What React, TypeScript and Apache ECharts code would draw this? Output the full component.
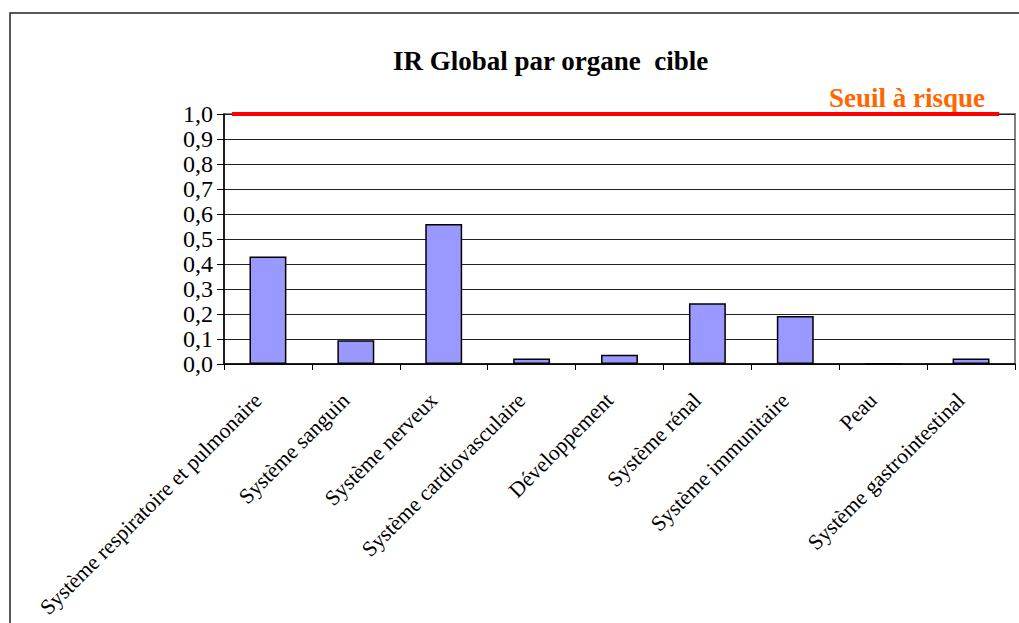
import React, { useEffect, useRef } from "react";
import * as echarts from "echarts";

const categories = [
  "Système respiratoire et pulmonaire",
  "Système sanguin",
  "Système nerveux",
  "Système cardiovasculaire",
  "Développement",
  "Système rénal",
  "Système immunitaire",
  "Peau",
  "Système gastrointestinal",
];
const irValues = [0.43, 0.095, 0.56, 0.022, 0.037, 0.243, 0.192, 0, 0.022];
const seuilValue = 1.0;
const seuilSpan = [1, 98];
const yTicks = { min: 0, max: 1, interval: 0.1 };

const FONT = "Liberation Serif";

export default function App() {
  const ref = useRef<HTMLDivElement>(null);
  useEffect(() => {
    if (!ref.current) return;
    const chart = echarts.init(ref.current, undefined, { renderer: "svg" });
    chart.setOption({
      animation: false,
      backgroundColor: "#fff",
      title: {
        text: "IR Global par organe  cible",
        left: 388,
        top: 42,
        textStyle: { fontFamily: FONT, fontSize: 27, fontWeight: "bold", color: "#000" },
      },
      grid: {
        left: 224,
        top: 114,
        right: 4,
        bottom: 259,
        show: true,
        borderColor: "#808080",
        borderWidth: 2,
        backgroundColor: "transparent",
        outerBoundsMode: "none",
        containLabel: false,
      },
      xAxis: [
        {
          type: "category",
          data: categories,
          axisLine: { lineStyle: { color: "#000", width: 1.5 } },
          axisTick: { show: true, length: 6, lineStyle: { color: "#000" } },
          axisLabel: {
            rotate: 45,
            interval: 0,
            margin: 23,
            padding: [0, 14, 0, 0],
            fontFamily: FONT,
            fontSize: 21.7,
            color: "#000",
          },
        },
        {
          type: "value",
          min: 0,
          max: 100,
          show: false,
          position: "top",
        },
      ],
      yAxis: {
        type: "value",
        min: yTicks.min,
        max: yTicks.max,
        interval: yTicks.interval,
        axisLine: { show: true, lineStyle: { color: "#000", width: 1.5 } },
        axisTick: { show: true, length: 7, lineStyle: { color: "#000" } },
        splitLine: { show: true, lineStyle: { color: "#222", width: 1 } },
        axisLabel: {
          margin: 11,
          fontFamily: FONT,
          fontSize: 24,
          color: "#000",
          formatter: (v: number) => v.toFixed(1).replace(".", ","),
        },
      },
      series: [
        {
          name: "IR Global",
          type: "bar",
          data: irValues,
          barWidth: "42%",
          itemStyle: { color: "#9999FF", borderColor: "#000", borderWidth: 1.5 },
        },
        {
          name: "Seuil à risque",
          type: "line",
          xAxisIndex: 1,
          data: seuilSpan.map((x) => [x, seuilValue]),
          symbol: "none",
          lineStyle: { color: "#FF0000", width: 4 },
          z: 5,
        },
      ],
      graphic: [
        {
          type: "rect",
          shape: { x: 10, y: 13, width: 1040, height: 660 },
          style: { fill: "none", stroke: "#222", lineWidth: 1.5 },
          silent: true,
        },
        {
          type: "text",
          x: 985,
          y: 111,
          style: {
            text: "Seuil à risque",
            fontFamily: FONT,
            fontSize: 27,
            fontWeight: "bold",
            fill: "#FF6600",
            align: "right",
            verticalAlign: "bottom",
          },
        },
      ],
    });
    return () => chart.dispose();
  }, []);
  return (
    <div
      ref={ref}
      style={{ position: "fixed", left: 0, top: 0, width: 1019, height: 623 }}
    />
  );
}
